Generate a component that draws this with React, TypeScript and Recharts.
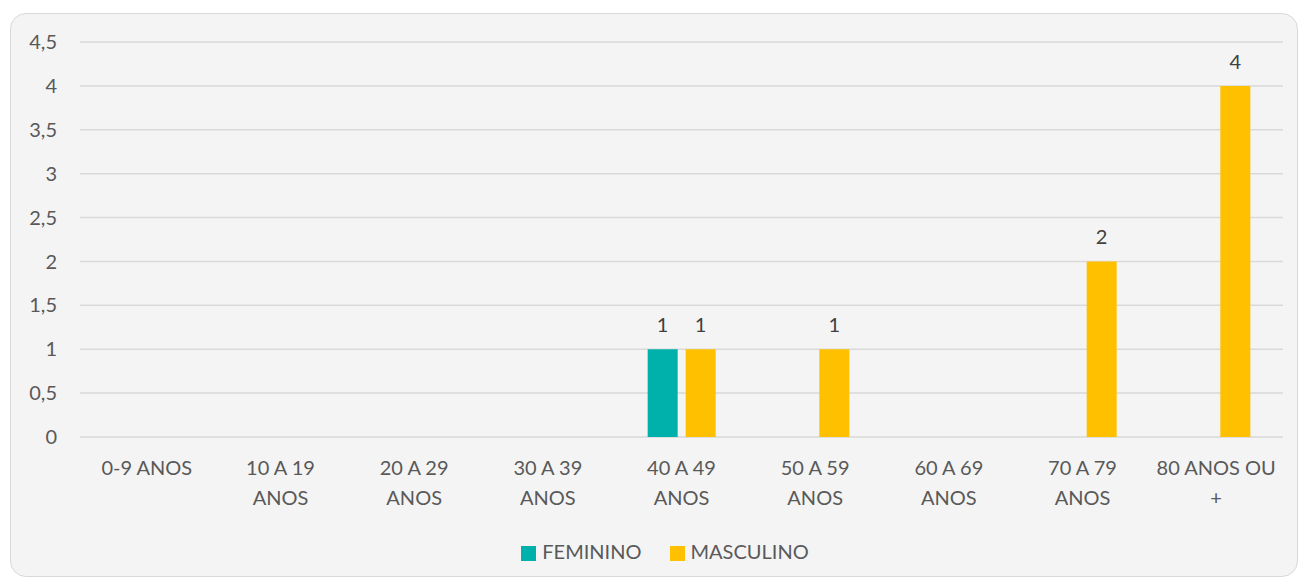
import { Bar, BarChart, CartesianGrid, LabelList, Legend, XAxis, YAxis } from 'recharts'

const categories = [
  '0-9 ANOS',
  '10 A 19 ANOS',
  '20 A 29 ANOS',
  '30 A 39 ANOS',
  '40 A 49 ANOS',
  '50 A 59 ANOS',
  '60 A 69 ANOS',
  '70 A 79 ANOS',
  '80 ANOS OU +',
]
const feminino = [null, null, null, null, 1, null, null, null, null]
const masculino = [null, null, null, null, 1, 1, null, 2, 4]
const yTicks = [0, 0.5, 1, 1.5, 2, 2.5, 3, 3.5, 4, 4.5]

const data = categories.map((name, i) => ({
  name,
  feminino: feminino[i],
  masculino: masculino[i],
}))

const font = 'Lato, "Open Sans", sans-serif'
const gray = '#595959'

const wrap = (label: string) => {
  if (label.length <= 8) return [label]
  const k = label.lastIndexOf(' ')
  return [label.slice(0, k), label.slice(k + 1)]
}

const XTick = (props: any) => {
  const { x, y, payload } = props
  const lines = wrap(String(payload.value))
  return (
    <g>
      {lines.map((line, i) => (
        <text
          key={i}
          x={x}
          y={y + 38 + i * 30}
          textAnchor='middle'
          fill={gray}
          fontSize={20}
          fontFamily={font}
        >
          {line}
        </text>
      ))}
    </g>
  )
}

const fmt = (v: number) => String(v).replace('.', ',')

const renderLabel = (props: any) => {
  const { x, y, width, value } = props
  if (value == null || value === 0) return null
  return (
    <text
      x={x + width / 2}
      y={y - 17}
      textAnchor='middle'
      fill='#404040'
      fontSize={20}
      fontFamily={font}
    >
      {fmt(value)}
    </text>
  )
}

export default function App() {
  return (
    <div style={{ position: 'absolute', left: 0, top: 0, width: 1304, height: 580, background: '#fff' }}>
      <div
        style={{
          position: 'absolute',
          left: 10,
          top: 13,
          width: 1288,
          height: 564,
          background: '#F4F4F4',
          border: '1px solid #D9D9D9',
          borderRadius: 16,
          boxSizing: 'border-box',
        }}
      >
        <BarChart
          width={1288}
          height={564}
          data={data}
          margin={{ top: 28, right: 16, left: 0, bottom: 49 }}
          barSize={30}
          barGap={8}
        >
          <CartesianGrid vertical={false} stroke='#D9D9D9' strokeWidth={1.5} />
          <XAxis
            dataKey='name'
            axisLine={false}
            tickLine={false}
            tickSize={0}
            tickMargin={0}
            height={70}
            interval={0}
            tick={<XTick />}
          />
          <YAxis
            domain={[0, 4.5]}
            ticks={yTicks}
            width={69}
            axisLine={false}
            tickLine={false}
            tickSize={0}
            tickMargin={23}
            tickFormatter={fmt}
            tick={{ fill: gray, fontSize: 20, fontFamily: font }}
          />
          <Legend
            verticalAlign='bottom'
            iconType='square'
            iconSize={15}
            height={22}
            wrapperStyle={{
              bottom: 16,
              paddingLeft: 64,
              boxSizing: 'border-box',
              fontFamily: font,
              fontSize: 20,
              lineHeight: '22px',
            }}
            formatter={(value) => (
              <span style={{ color: gray, marginRight: 18, marginLeft: 2 }}>{value}</span>
            )}
          />
          <Bar dataKey='feminino' name='FEMININO' fill='#00B0AA' isAnimationActive={false}>
            <LabelList dataKey='feminino' content={renderLabel} />
          </Bar>
          <Bar dataKey='masculino' name='MASCULINO' fill='#FFC000' isAnimationActive={false}>
            <LabelList dataKey='masculino' content={renderLabel} />
          </Bar>
        </BarChart>
      </div>
    </div>
  )
}
